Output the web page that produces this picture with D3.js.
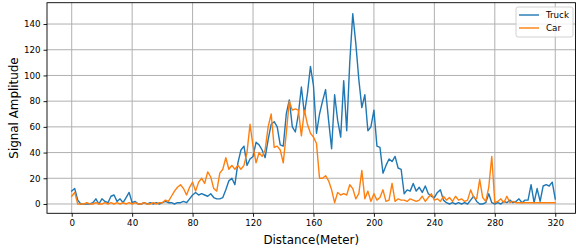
<!DOCTYPE html>
<html><head><meta charset="utf-8">
<script src="https://cdn.jsdelivr.net/npm/d3@7"></script>
<style>
body{margin:0;background:#fff}
svg{display:block}
text{font-family:"DejaVu Sans",sans-serif}
</style>
</head><body>
<svg id="chart" width="576" height="250"></svg>
<script>
// sample grid (meters), one sample every 2 m
const distance = d3.range(0, 321, 2);
const truck = [
10,12,3,0,0,0,0,1,4,0,
4,2,1,6,7,2,4,1,5,9,
1,2,0,0,1,0,1,0,1,0,
1,2,1,1,0,1,1,2,1,4,
7,9,7,8,7,6,8,5,4,4,
5,11,18,20,15,32,42,45,30,35,
37,48,46,42,36,50,62,64,60,46,
45,70,81,60,56,70,91,70,86,107,
92,55,70,80,89,65,43,85,65,52,
96,57,110,148,125,97,75,85,57,60,
73,45,44,24,30,35,33,37,28,27,
8,11,10,16,10,13,9,14,8,6,
5,9,11,3,1,0,1,0,1,0,
1,0,3,6,2,0,0,1,8,1,
0,1,0,2,1,3,1,2,4,1,
3,3,15,1,12,2,14,15,14,17,
4
];
const car = [
6,9,0,0,0,1,0,0,1,0,
0,1,0,1,0,1,0,1,0,1,
0,1,0,0,1,0,0,1,0,1,
1,3,2,6,10,13,15,12,7,13,
17,10,17,20,16,25,21,12,10,24,
27,36,27,30,27,30,27,30,40,62,
45,32,40,37,42,60,70,44,45,42,
32,55,80,73,74,73,53,73,62,55,
52,47,20,20,22,18,11,1,9,7,
8,7,15,12,4,8,26,4,10,2,
8,3,5,11,2,3,16,2,4,3,
3,2,4,3,2,3,6,2,5,8,
3,4,2,6,3,5,2,6,3,4,
2,3,11,5,4,19,5,2,13,37,
1,2,4,1,6,1,2,1,1,1,
1,1,1,1,1,1,1,1,1,1,
1
];
const xTicks = [0,40,80,120,160,200,240,280,320];
const yTicks = [0,20,40,60,80,100,120,140];
const seriesNames = ["Truck","Car"];
const seriesColors = ["#1f77b4","#ff7f0e"];

const svg = d3.select("#chart");
const L = 47, R = 575.5, T = 2.7, B = 213.3;
const x = d3.scaleLinear().domain([-16.35, 333.4]).range([L, R]);
const y = d3.scaleLinear().domain([-7.25, 156.6]).range([B, T]);

// grid
const grid = svg.append("g");
grid.selectAll(".gx").data(xTicks).join("line")
  .attr("x1", d => x(d)).attr("x2", d => x(d)).attr("y1", T).attr("y2", B)
  .attr("stroke", "#b0b0b0").attr("stroke-width", 1);
grid.selectAll(".gy").data(yTicks).join("line")
  .attr("y1", d => y(d)).attr("y2", d => y(d)).attr("x1", L).attr("x2", R)
  .attr("stroke", "#b0b0b0").attr("stroke-width", 1);

// lines
const seriesData = [truck, car];
const line = d3.line().x((d, i) => x(distance[i])).y(d => y(d));
seriesData.forEach((s, k) => {
  svg.append("path").datum(s)
    .attr("d", line).attr("fill", "none")
    .attr("stroke", seriesColors[k]).attr("stroke-width", 1.4)
    .attr("stroke-linejoin", "round").attr("stroke-linecap", "square");
});

// axes
const xAxis = d3.axisBottom(x).tickValues(xTicks).tickSize(3.5).tickPadding(3).tickSizeOuter(0);
const yAxis = d3.axisLeft(y).tickValues(yTicks).tickSize(3.5).tickPadding(3).tickSizeOuter(0);
const gx = svg.append("g").attr("transform", `translate(0,${B})`).call(xAxis);
const gy = svg.append("g").attr("transform", `translate(${L},0)`).call(yAxis);
[gx, gy].forEach(g => {
  g.select(".domain").remove();
  g.selectAll(".tick line").attr("stroke", "#000").attr("stroke-width", 0.9);
  g.selectAll(".tick text").attr("fill", "#000").style("font-size", "8.7px")
    .style("font-family", "DejaVu Sans");
});

// frame
svg.append("rect").attr("x", L).attr("y", T).attr("width", R - L).attr("height", B - T)
  .attr("fill", "none").attr("stroke", "#000").attr("stroke-width", 0.9);

// labels
svg.append("text").attr("x", (L + R) / 2).attr("y", 244).attr("text-anchor", "middle")
  .style("font-size", "11.9px").text("Distance(Meter)");
svg.append("text").attr("transform", `translate(18,${(T + B) / 2}) rotate(-90)`)
  .attr("text-anchor", "middle").style("font-size", "11.9px").text("Signal Amplitude");

// legend
const lg = svg.append("g");
lg.append("rect").attr("x", 516).attr("y", 7).attr("width", 57).attr("height", 30)
  .attr("rx", 2).attr("fill", "#fff").attr("fill-opacity", 0.8)
  .attr("stroke", "#cccccc").attr("stroke-width", 0.9);
seriesNames.forEach((n, k) => {
  const yy = 15 + k * 13;
  lg.append("line").attr("x1", 519).attr("x2", 539).attr("y1", yy).attr("y2", yy)
    .attr("stroke", seriesColors[k]).attr("stroke-width", 1.4);
  lg.append("text").attr("x", 546).attr("y", yy + 3).style("font-size", "8.7px").text(n);
});
</script>
</body></html>
